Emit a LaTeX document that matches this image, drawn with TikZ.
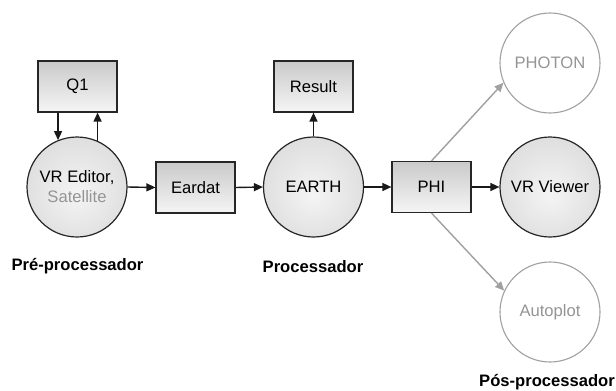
\documentclass[tikz,border=0pt]{standalone}
\usepackage{fontspec}
\setmainfont{Liberation Sans}
\usetikzlibrary{arrows.meta,calc}
\definecolor{lightgraytext}{HTML}{959595}
\definecolor{grayline}{HTML}{A0A0A0}
\definecolor{boxtop}{HTML}{CACACA}
\definecolor{boxbot}{HTML}{F5F5F5}
\definecolor{circin}{HTML}{F4F4F4}
\definecolor{circmid}{HTML}{DCDCDC}
\definecolor{circout}{HTML}{B8B8B8}
\pgfdeclareradialshading{ballshade}{\pgfpoint{0bp}{-4bp}}{color(0bp)=(circin); color(30bp)=(circmid); color(50bp)=(circout)}
\begin{document}
\begin{tikzpicture}[x=1pt,y=-1pt,
  font=\fontsize{16.6}{20}\selectfont,
  boxnode/.style={draw=black!85,line width=1.2pt,rectangle,minimum width=79pt,minimum height=51pt,inner sep=0pt,top color=boxtop,bottom color=boxbot},
  procnode/.style={draw=black!85,line width=1.2pt,circle,minimum size=100pt,inner sep=0pt,shading=ballshade,align=center},
  ghostnode/.style={draw=grayline,line width=1.1pt,circle,minimum size=100pt,inner sep=0pt,fill=white,text=lightgraytext},
  flow/.style={line width=1.4pt,draw=black!90,-{Triangle[length=9pt,width=8pt]}},
  grayflow/.style={line width=1.4pt,draw=grayline,-{Triangle[length=9pt,width=8pt]}},
  stagelabel/.style={font=\fontsize{16.6}{20}\selectfont\bfseries}
]
\useasboundingbox (0,0) rectangle (616,391);
\node[boxnode] (Q1) at (77.5,86.5) {Q1};
\node[procnode] (VRE) at (77,187) {VR Editor,\\\textcolor{lightgraytext}{Satellite}};
\node[boxnode] (EAR) at (195.5,187.5) {Eardat};
\node[procnode] (EARTH) at (313.5,187) {EARTH};
\node[boxnode] (RES) at (313.5,86.5) {Result};
\node[boxnode] (PHI) at (431.5,187) {PHI};
\node[procnode] (VRV) at (550,187) {VR Viewer};
\node[ghostnode] (PHOTON) at (550,63) {PHOTON};
\node[ghostnode] (AUTO) at (550,312) {Autoplot};
\node[stagelabel] (L1) at (77.5,266) {Pré-processador};
\node[stagelabel] (L2) at (313,267) {Processador};
\node[stagelabel,anchor=east,inner sep=1pt] (L3) at (616,382) {Pós-processador};
\draw[flow] (Q1.south -| VRE.112) -- (VRE.112);
\draw[flow] (VRE.66) -- (VRE.66 |- Q1.south);
\draw[flow] (VRE.east) -- (EAR.west);
\draw[flow] (EAR.east) -- (EARTH.west);
\draw[flow] (EARTH.north) -- (RES.south);
\draw[flow] (EARTH.east) -- (PHI.west);
\draw[flow] (PHI.east) -- (VRV.west);
\draw[grayflow] (PHI.north) -- (PHOTON.203);
\draw[grayflow] (PHI.south) -- (AUTO.155);
\end{tikzpicture}
\end{document}
